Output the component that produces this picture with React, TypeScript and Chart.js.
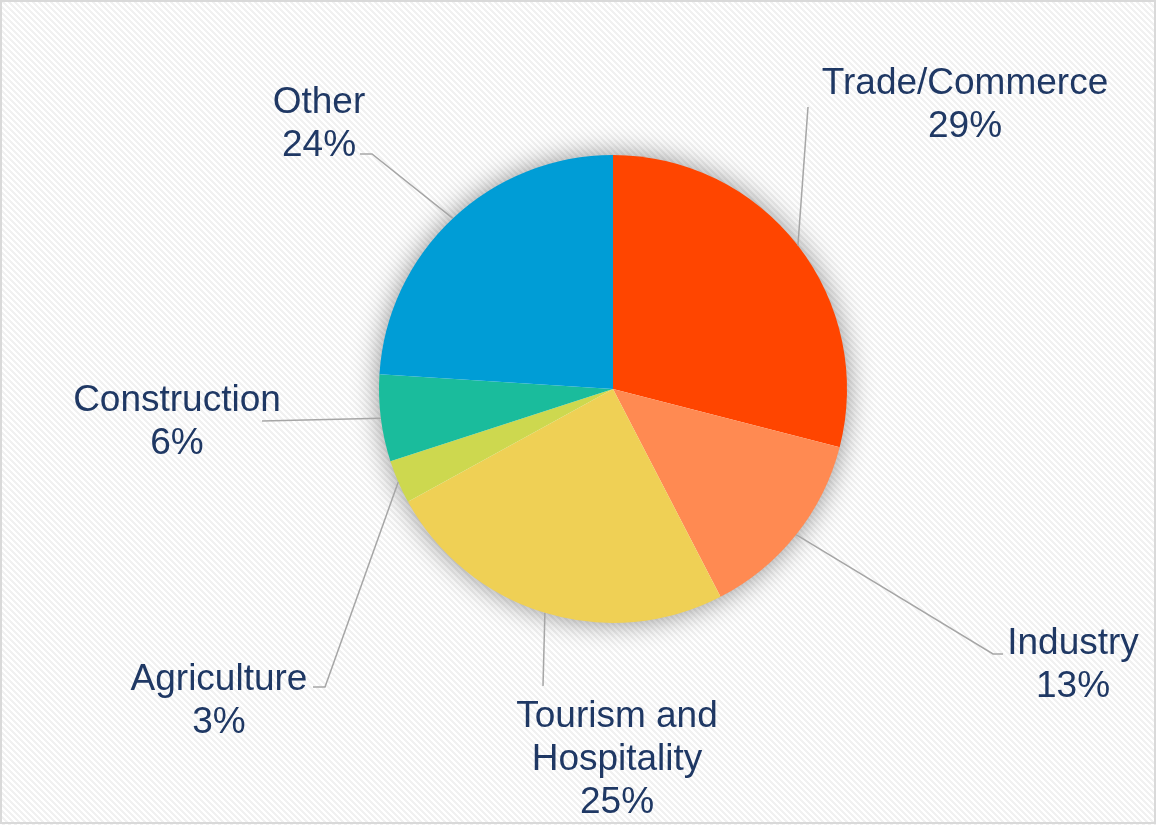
import React, { useEffect, useRef } from "react";
import { Chart, registerables } from "chart.js";

Chart.register(...registerables);

const categories = ["Trade/Commerce", "Industry", "Tourism and Hospitality", "Agriculture", "Construction", "Other"];
const labelLines = [["Trade/Commerce"], ["Industry"], ["Tourism and", "Hospitality"], ["Agriculture"], ["Construction"], ["Other"]];
const shares = [29, 13.4, 24.6, 3, 6, 24];
const colors = ["#FF4500", "#FF8A52", "#EFD055", "#CDD84F", "#1ABC9C", "#009DD6"];

// label layout (offsets from pie centre, px)
const leaderPaths: number[][][] = [
  [[195, -282]],
  [[380, 265], [390, 265]],
  [[-70, 297]],
  [[-288, 298], [-300, 298]],
  [[-351, 32]],
  [[-241, -235], [-253, -235]],
];
const labelAnchors: number[][] = [
  [352, -295],
  [460, 265],
  [4, 338],
  [-394, 301],
  [-436, 22],
  [-294, -276],
];

const W = 1156;
const H = 825;

function makePattern(ctx: CanvasRenderingContext2D) {
  const c = document.createElement("canvas");
  const n = 6;
  c.width = n;
  c.height = n;
  const p = c.getContext("2d")!;
  p.fillStyle = "#ffffff";
  p.fillRect(0, 0, n, n);
  p.fillStyle = "#f1f1f1";
  for (let y = 0; y < n; y++) {
    for (let x = 0; x < n; x++) {
      const d = (((x - y) % n) + n) % n;
      if (d < 3) p.fillRect(x, y, 1, 1);
    }
  }
  return ctx.createPattern(c, "repeat");
}

const bgPlugin = {
  id: "bgPlugin",
  beforeDraw(chart: any) {
    const ctx = chart.ctx as CanvasRenderingContext2D;
    ctx.save();
    const pat = makePattern(ctx);
    ctx.fillStyle = pat || "#fff";
    ctx.fillRect(0, 0, chart.width, chart.height);
    ctx.restore();
  },
  beforeDatasetsDraw(chart: any) {
    const meta = chart.getDatasetMeta(0);
    const a = meta.data[0];
    if (!a) return;
    const ctx = chart.ctx as CanvasRenderingContext2D;
    ctx.save();
    ctx.shadowColor = "rgba(0,0,0,0.45)";
    ctx.shadowBlur = 28;
    ctx.fillStyle = "#ffffff";
    ctx.beginPath();
    ctx.arc(a.x, a.y, a.outerRadius - 1, 0, Math.PI * 2);
    ctx.fill();
    ctx.restore();
  },
  afterDatasetsDraw(chart: any) {
    const meta = chart.getDatasetMeta(0);
    const ctx = chart.ctx as CanvasRenderingContext2D;
    ctx.save();
    meta.data.forEach((a: any, i: number) => {
      const mid = (a.startAngle + a.endAngle) / 2;
      const sx = a.x + a.outerRadius * Math.cos(mid);
      const sy = a.y + a.outerRadius * Math.sin(mid);
      ctx.strokeStyle = "#a6a6a6";
      ctx.lineWidth = 1.5;
      ctx.beginPath();
      ctx.moveTo(sx, sy);
      leaderPaths[i].forEach((pt) => ctx.lineTo(a.x + pt[0], a.y + pt[1]));
      ctx.stroke();
      const lines = [...labelLines[i], Math.round(shares[i]) + "%"];
      ctx.fillStyle = "#1F3864";
      ctx.font = '37px "Liberation Sans", Arial, sans-serif';
      ctx.textAlign = "center";
      ctx.textBaseline = "alphabetic";
      lines.forEach((t, k) => {
        ctx.fillText(t, a.x + labelAnchors[i][0], a.y + labelAnchors[i][1] + k * 43);
      });
    });
    ctx.restore();
  },
  afterDraw(chart: any) {
    const ctx = chart.ctx as CanvasRenderingContext2D;
    ctx.save();
    ctx.strokeStyle = "#d9d9d9";
    ctx.lineWidth = 2;
    ctx.strokeRect(1, 1, chart.width - 2, chart.height - 3);
    ctx.restore();
  },
};

export default function App() {
  const ref = useRef<HTMLCanvasElement | null>(null);
  useEffect(() => {
    if (!ref.current) return;
    const chart = new Chart(ref.current, {
      type: "pie",
      data: {
        labels: categories,
        datasets: [
          {
            data: shares,
            backgroundColor: colors,
            borderWidth: 0,
          },
        ],
      },
      options: {
        responsive: false,
        animation: false,
        devicePixelRatio: 1,
        layout: { padding: { left: 379, right: 309, top: 155, bottom: 202 } },
        plugins: { legend: { display: false }, tooltip: { enabled: false } },
      },
      plugins: [bgPlugin],
    });
    return () => chart.destroy();
  }, []);
  return (
    <div style={{ position: "absolute", left: 0, top: 0, width: W, height: H }}>
      <canvas ref={ref} width={W} height={H} style={{ width: W, height: H, display: "block" }} />
    </div>
  );
}
